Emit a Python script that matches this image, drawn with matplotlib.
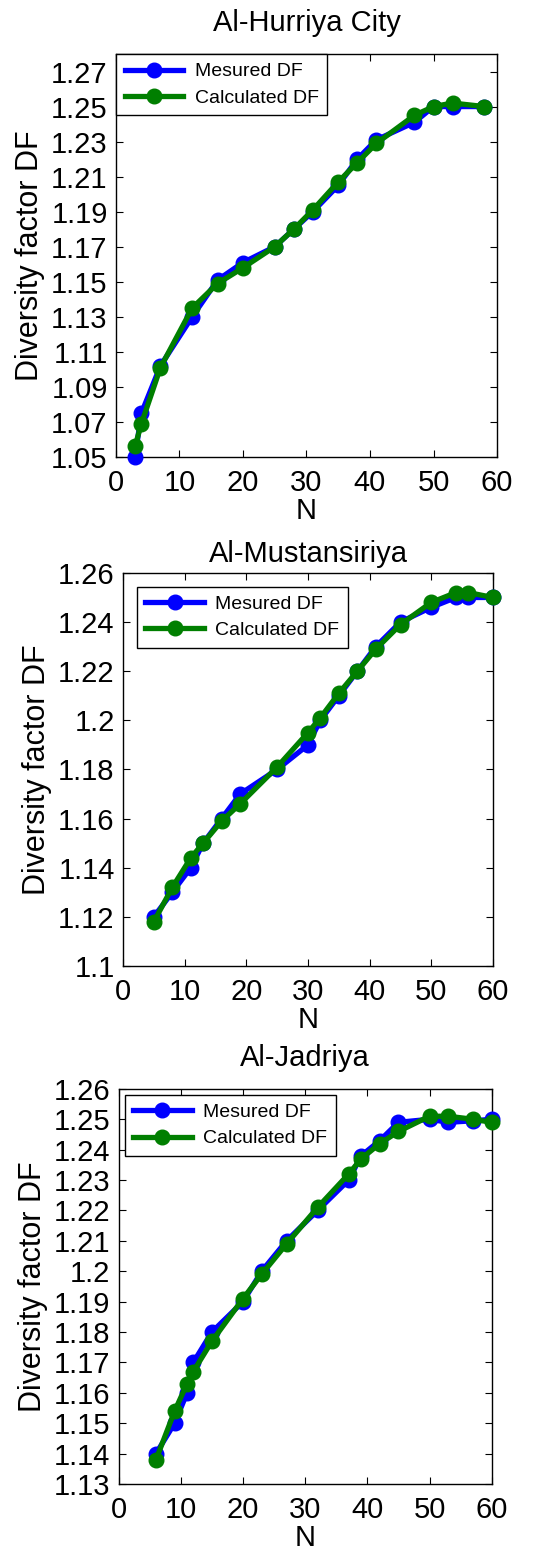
import matplotlib
matplotlib.use("Agg")
import matplotlib.pyplot as plt
import numpy as np

plt.rcParams["font.family"] = ["Liberation Sans", "DejaVu Sans"]

# Al-Hurriya City
n_hurriya = [3, 4, 7, 12, 16, 20, 25, 28, 31, 35, 38, 41, 47, 50, 53, 58]
meas_hurriya = [1.050, 1.075, 1.102, 1.130, 1.151, 1.161, 1.170, 1.180, 1.190, 1.205,
                1.220, 1.231, 1.241, 1.250, 1.250, 1.250]
calc_hurriya = [1.056, 1.069, 1.101, 1.135, 1.149, 1.158, 1.170, 1.180, 1.191, 1.207,
                1.218, 1.229, 1.245, 1.250, 1.252, 1.250]

# Al-Mustansiriya
n_mustan = [5, 8, 11, 13, 16, 19, 25, 30, 32, 35, 38, 41, 45, 50, 54, 56, 60]
meas_mustan = [1.120, 1.130, 1.140, 1.150, 1.160, 1.170, 1.180, 1.190, 1.200, 1.210,
               1.220, 1.230, 1.240, 1.246, 1.250, 1.250, 1.250]
calc_mustan = [1.118, 1.132, 1.144, 1.150, 1.159, 1.166, 1.181, 1.195, 1.201, 1.211,
               1.220, 1.229, 1.239, 1.248, 1.252, 1.252, 1.250]

# Al-Jadriya
n_jadriya = [6, 9, 11, 12, 15, 20, 23, 27, 32, 37, 39, 42, 45, 50, 53, 57, 60]
meas_jadriya = [1.140, 1.150, 1.160, 1.170, 1.180, 1.190, 1.200, 1.210, 1.220, 1.230,
                1.238, 1.243, 1.249, 1.250, 1.249, 1.2495, 1.250]
calc_jadriya = [1.138, 1.154, 1.163, 1.167, 1.177, 1.191, 1.199, 1.209, 1.221, 1.232,
                1.237, 1.242, 1.246, 1.251, 1.251, 1.250, 1.249]

panels = [
    ("Al-Hurriya City", n_hurriya, meas_hurriya, calc_hurriya,
     (1.05, 1.28), np.arange(1.05, 1.2701, 0.02), "%.2f",
     [0.2086, 0.7063, 0.6853, 0.259], 16.5, 0.0),
    ("Al-Mustansiriya", n_mustan, meas_mustan, calc_mustan,
     (1.10, 1.26), np.arange(1.10, 1.2601, 0.02), None,
     [0.2212, 0.3792, 0.6655, 0.2526], 8, 0.7),
    ("Al-Jadriya", n_jadriya, meas_jadriya, calc_jadriya,
     (1.13, 1.26), np.arange(1.13, 1.2601, 0.01), None,
     [0.2135, 0.0463, 0.6709, 0.2539], 16.5, 0.3),
]

fig = plt.figure(figsize=(5.56, 15.56), dpi=100)

for title, n, meas, calc, ylim, yticks, fmt, rect, tpad, lpad in panels:
    ax = fig.add_axes(rect)
    ax.plot(n, meas, "-o", color="#0000ff", lw=3.8, ms=10.5, clip_on=False,
            label="Mesured DF", zorder=3)
    ax.plot(n, calc, "-o", color="#007f00", lw=3.8, ms=10.5, clip_on=False,
            label="Calculated DF", zorder=4)
    ax.set_xlim(0, 60)
    ax.set_ylim(*ylim)
    ax.set_xticks(np.arange(0, 61, 10))
    ax.set_yticks(yticks)
    if fmt:
        ax.set_yticklabels([fmt % v for v in yticks])
    else:
        ax.set_yticklabels(["%g" % round(v, 2) for v in yticks])
    ax.tick_params(direction="in", top=True, right=True, length=5, width=0.8,
                   labelsize=21, pad=6)
    ax.tick_params(axis="x", pad=9)
    for s in ax.spines.values():
        s.set_linewidth(1.0)
    ax.set_title(title, fontsize=21, pad=tpad)
    ax.set_xlabel("N", fontsize=21, labelpad=0)
    ax.set_ylabel("Diversity factor DF", fontsize=22, labelpad=4)
    leg = ax.legend(loc="upper left", fontsize=14, handlelength=3.0,
                    labelspacing=0.45, borderpad=0.45, handletextpad=0.6,
                    fancybox=False, framealpha=1, edgecolor="black",
                    borderaxespad=lpad)
    leg.get_frame().set_linewidth(1.0)

fig.savefig("out.png", dpi=100)
